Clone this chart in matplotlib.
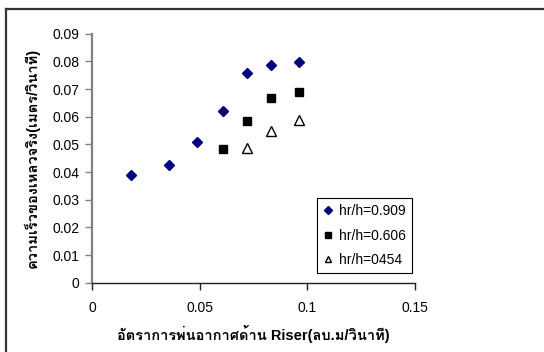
import matplotlib
matplotlib.use("Agg")
import matplotlib.pyplot as plt
from matplotlib.lines import Line2D

# data
x_909 = [0.018, 0.036, 0.049, 0.061, 0.072, 0.083, 0.096]
y_909 = [0.0388, 0.0427, 0.0510, 0.0619, 0.0758, 0.0788, 0.0797]
x_606 = [0.061, 0.072, 0.083, 0.096]
y_606 = [0.0482, 0.0583, 0.0668, 0.0691]
x_454 = [0.072, 0.083, 0.096]
y_454 = [0.0487, 0.0549, 0.0587]

labels = ['hr/h=0.909', 'hr/h=0.606', 'hr/h=0454']
xlabel = 'อัตราการพ่นอากาศด้าน Riser(ลบ.ม/วินาที)'
ylabel = 'ความเร็วของเหลวจริง(เมตร/วินาที)'

plt.rcParams['font.family'] = ['Liberation Sans', 'Loma', 'DejaVu Sans']

fig = plt.figure(figsize=(5.44, 3.52), dpi=100)
ax = fig.add_axes([0.169, 0.197, 0.594, 0.707])

ax.plot(x_909, y_909, 'D', color='#000080', ms=5.5, mec='#000080', label=labels[0], ls='none')
ax.plot(x_606, y_606, 's', color='black', ms=5.5, label=labels[1], ls='none')
ax.plot(x_454, y_454, '^', mfc='white', mec='black', mew=1.0, ms=6.5, label=labels[2], ls='none')

ax.set_xlim(0, 0.15)
ax.set_ylim(0, 0.09)
ax.set_xticks([0, 0.05, 0.1, 0.15])
ax.set_xticklabels(['0', '0.05', '0.1', '0.15'])
ax.set_yticks([i / 100 for i in range(10)])
ax.set_yticklabels(['0'] + ['%.2f' % (i / 100) for i in range(1, 10)])

ax.spines['top'].set_visible(False)
ax.spines['right'].set_visible(False)
ax.spines['left'].set_color('#808080')
ax.spines['left'].set_linewidth(1.6)
ax.spines['bottom'].set_color('#222222')
ax.spines['bottom'].set_linewidth(1.0)
ax.tick_params(axis='y', direction='out', length=5, width=1.0, color='#808080', labelsize=10, pad=4)
ax.tick_params(axis='x', direction='out', length=5, width=1.0, color='#222222', labelsize=10, pad=8)

ax.set_xlabel(xlabel, fontsize=10.5, fontweight='bold', labelpad=7)
ax.set_ylabel(ylabel, fontsize=10.5, fontweight='bold', labelpad=9)

leg = ax.legend(loc='upper left', bbox_to_anchor=(0.697, 0.34), fontsize=10,
                frameon=True, fancybox=False, edgecolor='black', framealpha=1,
                handlelength=0.6, handletextpad=0.5, borderpad=0.45, labelspacing=0.75,
                markerscale=0.75, borderaxespad=0)
leg.get_frame().set_linewidth(0.8)

# outer chart border: only top and left edges are inside the picture
fig.add_artist(Line2D([6 / 544, 6 / 544], [0, 1 - 9 / 352], transform=fig.transFigure,
                      color='#333333', lw=1.6))
fig.add_artist(Line2D([6 / 544, 1], [1 - 9 / 352, 1 - 9 / 352], transform=fig.transFigure,
                      color='#333333', lw=1.6))

fig.savefig('out.png', dpi=100)
